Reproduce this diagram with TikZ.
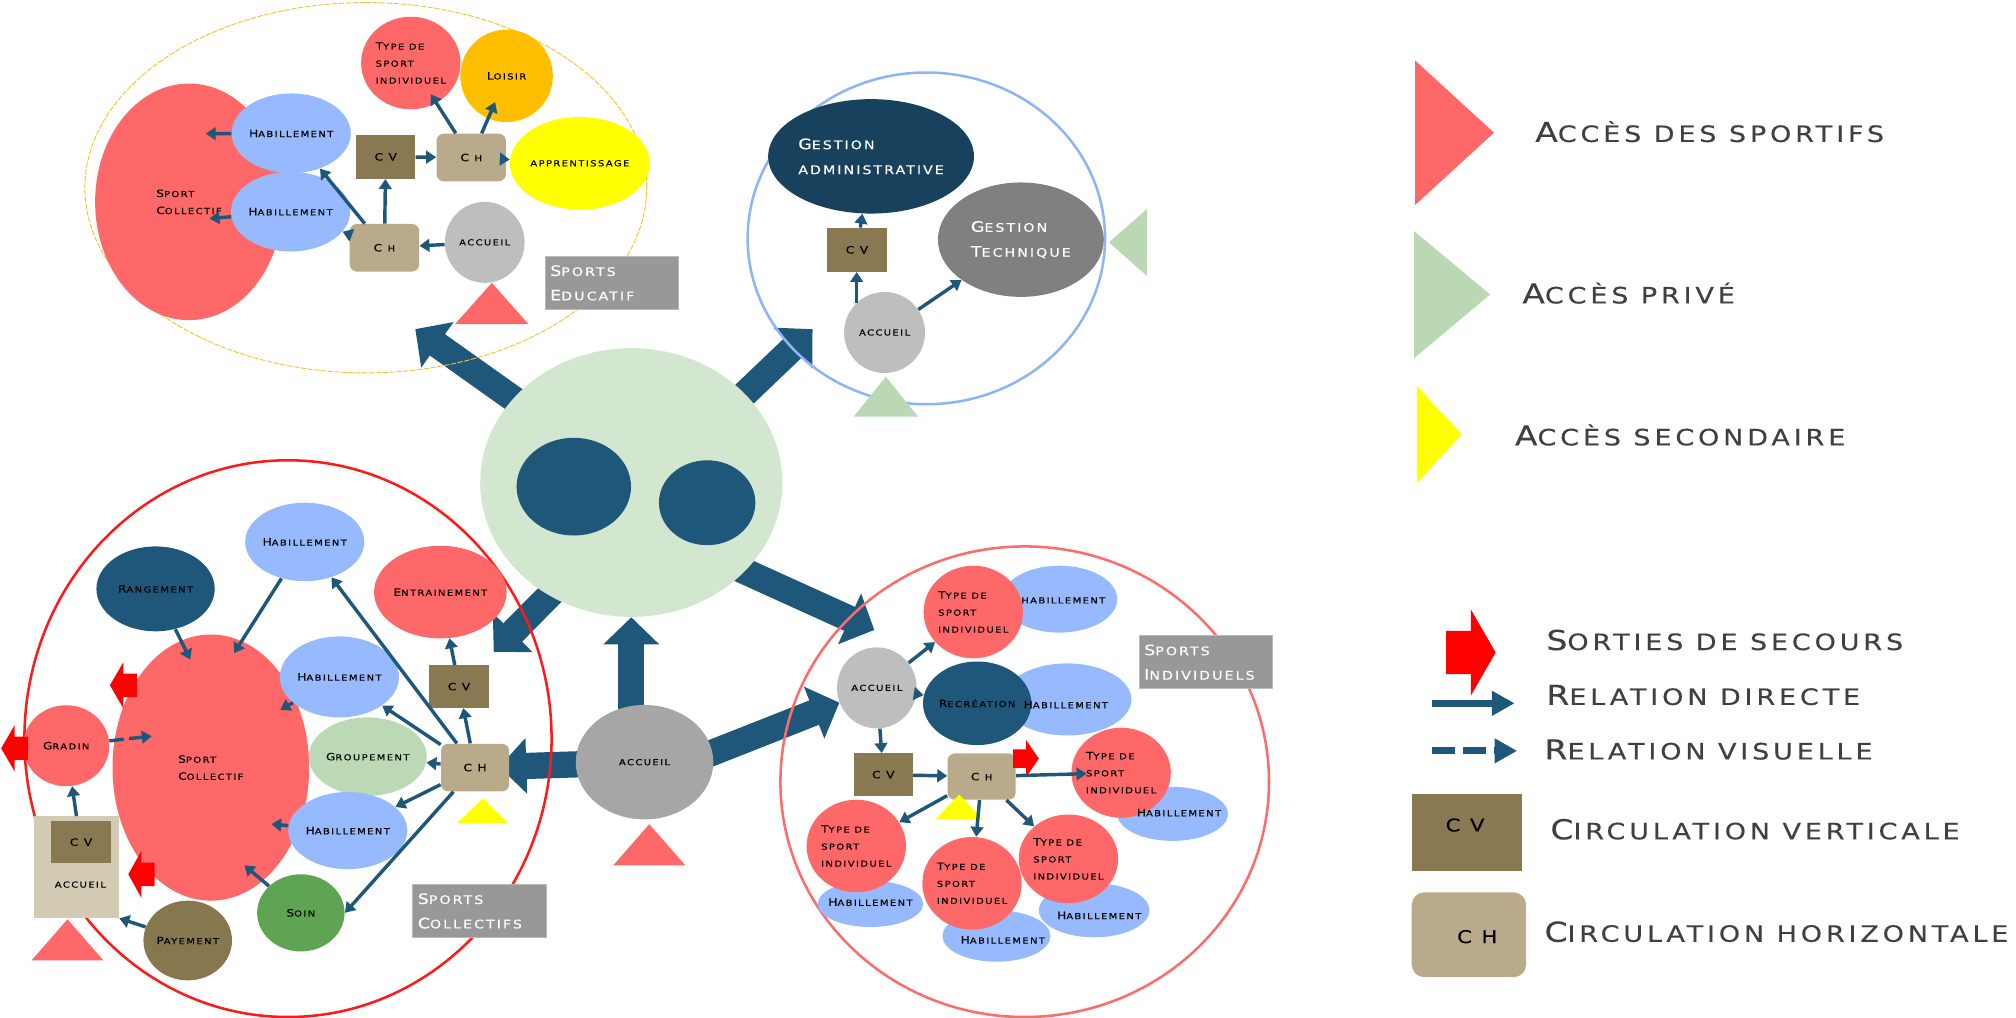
\documentclass[tikz,border=0pt]{standalone}
\usepackage{fontspec}
\setmainfont{DejaVu Sans}[FakeStretch=1.2,LetterSpace=17,FakeBold=0.3]
\usepackage{tikz}
\usetikzlibrary{shapes.geometric,arrows.meta}
\pgfdeclarelayer{bg}
\pgfsetlayers{bg,main}

\definecolor{salmon}{HTML}{FF6868}
\definecolor{habblue}{HTML}{97B9FD}
\definecolor{arrblue}{HTML}{1E5779}
\definecolor{navyadm}{HTML}{17415C}
\definecolor{navyrec}{HTML}{1E5779}
\definecolor{accgray}{HTML}{BEBEBE}
\definecolor{accdark}{HTML}{A6A6A6}
\definecolor{chtan}{HTML}{B8AA8A}
\definecolor{cvbrown}{HTML}{887953}
\definecolor{accbox}{HTML}{D3CBB4}
\definecolor{loisir}{HTML}{FFBF00}
\definecolor{appyellow}{HTML}{FFFF00}
\definecolor{hubgreen}{HTML}{D3E6D0}
\definecolor{grpgreen}{HTML}{BCD9B5}
\definecolor{soingreen}{HTML}{5FA452}
\definecolor{paybrown}{HTML}{86774F}
\definecolor{techgray}{HTML}{808080}
\definecolor{taggray}{HTML}{989898}
\definecolor{exitred}{HTML}{FF0000}
\definecolor{privegreen}{HTML}{B9D8B3}
\definecolor{eduline}{HTML}{F5C231}
\definecolor{gesline}{HTML}{8FB4F6}
\definecolor{colline}{HTML}{FF1A1A}
\definecolor{indline}{HTML}{FF6B6B}
\definecolor{legtext}{HTML}{404040}

\makeatletter
\newcommand\sm[1]{{\fontsize{\dimexpr0.82\dimexpr\f@size pt\relax\relax}{\f@baselineskip}\selectfont\MakeUppercase{#1}}}
\makeatother

\begin{document}
\begin{tikzpicture}[x=0.025cm, y=-0.025cm,
    sz/.style 2 args={minimum width=#1*0.025cm, minimum height=#2*0.025cm},
    lbl/.style={font=\fontsize{5.6}{9.4}\selectfont, text=black, inner sep=0pt, align=center},
    blob/.style={ellipse, lbl},
    sal/.style={blob, fill=salmon},
    hab/.style={blob, fill=habblue},
    acc/.style={blob, fill=accgray},
    cvbox/.style={rectangle, lbl, fill=cvbrown, sz={46}{34}},
    chbox/.style={rectangle, lbl, fill=chtan, rounded corners=4pt, sz={54}{37}},
    zone/.style={ellipse, inner sep=0pt, line width=1.4pt},
    tag/.style={rectangle, fill=taggray, draw=gray!55, line width=0.6pt, text=white, font=\fontsize{8}{13.5}\selectfont, align=left, text width=2.4cm, inner xsep=0.1cm, minimum height=1.025cm},
    gest/.style={blob, text=white, align=left, font=\fontsize{8}{13.8}\selectfont},
    legtxt/.style={anchor=west, inner sep=0pt, text=legtext, font=\fontsize{15.2}{18}\selectfont},
    rel/.style={draw=arrblue, line width=1.9pt, -{Triangle[length=5.5pt,width=7pt]}},
    vis/.style={rel, dash pattern=on 8pt off 3pt},
    legrel/.style={draw=arrblue, line width=4pt, -{Triangle[length=12.5pt,width=13pt]}},
    big/.style={draw=arrblue, line width=14.5pt, -{Triangle[length=15pt,width=30pt]}},
    sortie/.pic={\fill[exitred] (-1,-0.5) -- (0,-0.5) -- (0,-1) -- (1,0) -- (0,1) -- (0,0.5) -- (-1,0.5) -- cycle;}
]
\useasboundingbox (0,0) rectangle (1568,791);

\node[zone, draw=eduline, line width=0.5pt, dash pattern=on 3pt off 0.8pt, sz={437}{288}] (zEdu) at (284.5,146) {};
\node[zone, draw=gesline, sz={278}{258}] (zGes) at (720.5,185.4) {};
\node[zone, draw=colline, sz={410}{433}] (zCol) at (224,574.5) {};
\node[zone, draw=indline, sz={380}{366}] (zInd) at (797,608) {};

\node[ellipse, fill=hubgreen, sz={235}{209}] (hub) at (491,375.3) {};
\node[ellipse, fill=navyrec, sz={89}{76}] (hubL) at (446.3,378.5) {};
\node[ellipse, fill=navyrec, sz={75}{66}] (hubR) at (550,391) {};
\node[blob, fill=accdark, sz={107}{89}] (acc) at (501.3,592.8) {\sm{accueil}};
\fill[salmon] (477,673) -- (505,641) -- (533,673) -- cycle;

\node[sal, sz={146}{184}, align=left] (eSport) at (147,157) {S\sm{port}\\C\sm{ollectif}};
\node[hab, sz={78}{62}] (eHab1) at (226.5,103.7) {H\sm{abillement}};
\node[hab, sz={78}{62}] (eHab2) at (226,164.6) {H\sm{abillement}};
\node[cvbox] (eCV) at (300,122) {C V};
\node[chbox] (eCH1) at (366.5,122.5) {C \sm{h}};
\node[sal, sz={71}{72}, align=left] (eType) at (319.5,49) {T\sm{ype de}\\\sm{sport}\\\sm{individuel}};
\node[blob, fill=loisir, sz={72}{72}] (eLoisir) at (394,59) {L\sm{oisir}};
\node[blob, fill=appyellow, sz={92}{72}] (eApp) at (451,127) {\sm{apprentissage}};
\node[chbox] (eCH2) at (299,192.7) {C \sm{h}};
\node[acc, sz={62}{63}] (eAcc) at (377,188.5) {\sm{accueil}};
\node[tag] (eTag) at (476,220) {S\sm{ports}\\E\sm{ducatif}};
\fill[salmon] (354,252) -- (382.5,220) -- (411,252) -- cycle;
\coordinate (eIn1) at (160,104);
\coordinate (eIn2) at (163,170);

\draw[rel] (eHab1) -- (eIn1);
\draw[rel] (eHab2) -- (eIn2);
\draw[rel] (eCV) -- (eCH1);
\draw[rel, shorten >=-0.2cm] (eCH1) -- (eType);
\draw[rel, shorten >=-0.35cm] (eCH1) -- (eLoisir);
\draw[rel] (eCH1) -- (eApp);
\draw[rel] (eCH2) -- (eCV);
\draw[rel] (eCH2) -- (eHab1);
\draw[rel] (eCH2) -- (eHab2);
\draw[rel] (eAcc) -- (eCH2);

\node[gest, fill=navyadm, sz={130}{89}] (gAdm) at (677.5,121.6) {G\sm{estion}\\\sm{administrative}};
\node[gest, fill=techgray, sz={129}{89}] (gTech) at (794,186.4) {G\sm{estion}\\T\sm{echnique}};
\node[cvbox] (gCV) at (666.5,194.3) {C V};
\node[acc, sz={63}{63}] (gAcc) at (688,258.6) {\sm{accueil}};
\fill[privegreen] (664,324) -- (689,293) -- (714,324) -- cycle;
\fill[privegreen] (892,162.6) -- (862.6,188.5) -- (892,214.7) -- cycle;

\draw[rel] (gAcc.133) -- (gAcc.133 |- gCV.south);
\draw[rel] (gCV) -- (gAdm);
\draw[rel] (gAcc) -- (gTech);

\node[blob, fill=navyrec, sz={92}{66}] (cRang) at (121,458) {R\sm{angement}};
\node[hab, sz={80}{61}] (cHab1) at (237,421.5) {H\sm{abillement}};
\node[sal, sz={153}{207}, align=left] (cSport) at (164,597) {S\sm{port}\\C\sm{ollectif}};
\node[sal, sz={95}{72}] (cEnt) at (342.5,460.5) {E\sm{ntrainement}};
\node[hab, sz={77}{63}] (cHab2) at (264,526.5) {H\sm{abillement}};
\node[blob, fill=grpgreen, sz={86}{61}] (cGrp) at (286,588.5) {G\sm{roupement}};
\node[hab, sz={77}{60}] (cHab3) at (270.5,646) {H\sm{abillement}};
\node[blob, fill=soingreen, sz={68}{60}] (cSoin) at (234,710) {S\sm{oin}};
\node[blob, fill=paybrown, sz={68}{62}] (cPay) at (146,731.5) {P\sm{ayement}};
\node[sal, sz={67}{63}] (cGrad) at (51.5,580) {G\sm{radin}};
\node[rectangle, fill=accbox, sz={66}{79}] (cAccBox) at (59.5,674.5) {};
\node[cvbox, sz={46}{33}] (cCV2) at (63,655) {C V};
\node[lbl] (cAccT) at (62.5,688) {\sm{accueil}};
\node[chbox, sz={53}{37}] (cCH) at (369.5,597) {C H};
\node[cvbox, sz={46}{33}] (cCV) at (357,534) {C V};
\node[tag] (cTag) at (373,708.5) {S\sm{ports}\\C\sm{ollectifs}};
\fill[appyellow] (356,640) -- (375.5,621) -- (395,640) -- cycle;
\fill[salmon] (24.5,747) -- (52.5,715) -- (80.5,747) -- cycle;
\pic[xscale=-10.5, yscale=18] at (96,533) {sortie};
\pic[xscale=-10.2, yscale=18.3] at (110,680) {sortie};
\pic[xscale=-10.5, yscale=18] at (11.4,582) {sortie};
\coordinate (cIn0) at (148,513);
\coordinate (cIn1) at (182,508);
\coordinate (cIn2) at (218,552);
\coordinate (cIn3) at (211,641);
\coordinate (cIn4) at (190,673);
\coordinate (cIn5) at (118,572.5);

\draw[rel] (cRang) -- (cIn0);
\draw[rel] (cHab1) -- (cIn1);
\draw[rel] (cHab2) -- (cIn2);
\draw[rel] (cHab3) -- (cIn3);
\draw[rel] (cSoin) -- (cIn4);
\draw[vis] (cGrad) -- (cIn5);
\draw[rel] (cCH) -- (cHab1);
\draw[rel] (cCH) -- (cHab2);
\draw[rel] (cCH) -- (cGrp);
\draw[rel] (cCH) -- (cHab3);
\draw[rel] (cCH) -- (cSoin.east);
\draw[rel] (cCH) -- (cCV);
\draw[rel] (cCV) -- (cEnt);
\draw[rel] (cPay) -- (cAccBox.south east);
\draw[rel] (cAccBox.north) -- (cGrad);

\node[hab, sz={90}{52}] (iHabT) at (824,466) {};
\node[hab, sz={100}{56}] (iHabR) at (830,544) {};
\node[hab, sz={86}{42}] (iHab6) at (912,633) {};
\node[hab, sz={82}{36}] (iHab3) at (677,703) {};
\node[hab, sz={84}{40}] (iHab4) at (775,728) {};
\node[hab, sz={86}{42}] (iHab5) at (851,708) {};
\node[sal, sz={72}{72}, align=left] (iType1) at (757,476) {T\sm{ype de}\\\sm{sport}\\\sm{individuel}};
\node[blob, fill=navyrec, sz={65}{65}] (iRec) at (760,547) {R\sm{ecréation}};
\node[sal, sz={76}{70}, align=left] (iType2) at (872,601) {T\sm{ype de}\\\sm{sport}\\\sm{individuel}};
\node[sal, sz={72}{72}, align=left] (iType3) at (666,658) {T\sm{ype de}\\\sm{sport}\\\sm{individuel}};
\node[sal, sz={74}{72}, align=left] (iType4) at (756,687) {T\sm{ype de}\\\sm{sport}\\\sm{individuel}};
\node[sal, sz={77}{69}, align=left] (iType5) at (831,668) {T\sm{ype de}\\\sm{sport}\\\sm{individuel}};
\node[lbl] (iHabTt) at (827,467) {\sm{habillement}};
\node[lbl] (iHabRt) at (829,548) {H\sm{abillement}};
\node[lbl] (iHab6t) at (917,632) {H\sm{abillement}};
\node[lbl] (iHab3t) at (677,701.6) {H\sm{abillement}};
\node[lbl] (iHab4t) at (780,731) {H\sm{abillement}};
\node[lbl] (iHab5t) at (855,712) {H\sm{abillement}};
\node[acc, sz={62}{63}] (iAcc) at (682,535) {\sm{accueil}};
\node[cvbox, sz={46}{33}] (iCV) at (687,602.5) {C V};
\node[chbox, sz={53}{36}] (iCH) at (763.5,604) {C \sm{h}};
\node[tag] (iTag) at (938,515) {S\sm{ports}\\I\sm{ndividuels}};
\fill[appyellow] (728,637) -- (746,618) -- (764,637) -- cycle;
\pic[xscale=10, yscale=14.5] at (798,590) {sortie};

\draw[rel] (iAcc) -- (iType1);
\draw[rel] (iAcc) -- (iRec);
\draw[rel] (iAcc) -- (iCV);
\draw[rel] (iCV) -- (iCH);
\draw[rel, shorten >=-0.3cm] (iCH) -- (iType2);
\draw[rel] (iCH) -- (iType3);
\draw[rel] (iCH) -- (iType4);
\draw[rel] (iCH) -- (iType5);

\coordinate (tEdu) at (323,256);
\coordinate (tGes) at (632,256);
\coordinate (tCol) at (384,507);
\coordinate (tInd) at (680,490);
\begin{pgfonlayer}{bg}
\draw[big] (hub.center) -- (tEdu);
\draw[big, shorten <=-0.5cm] (hub.38) -- (tGes);
\draw[big, shorten <=-0.5cm] (hub.234) -- (tCol);
\draw[big, shorten <=-0.5cm] (hub.322) -- (tInd);
\draw[big] (hub.south |- acc.center) -- (hub.south);
\draw[big, shorten >=-0.2cm] (acc.center) -- (cCH);
\draw[big, shorten <=-0.5cm] (acc.8) -- (iAcc);
\end{pgfonlayer}

\fill[salmon] (1100.6,47) -- (1162,103.2) -- (1100.6,159.5) -- cycle;
\node[legtxt] (lgSport) at (1193.8,102.4) {A\sm{ccès des sportifs}};
\fill[privegreen] (1099.8,179.7) -- (1159,229) -- (1099.8,278.6) -- cycle;
\node[legtxt] (lgPrive) at (1183.8,228) {A\sm{ccès privé}};
\fill[appyellow] (1102,300.2) -- (1137,337.8) -- (1102,375.8) -- cycle;
\node[legtxt] (lgSec) at (1178,338.4) {A\sm{ccès secondaire}};

\pic[xscale=19.3, yscale=33.5] at (1144,507.5) {sortie};
\node[legtxt] (lgExit) at (1202.5,497.8) {S\sm{orties de secours}};
\coordinate (lgA1) at (1114,547);
\coordinate (lgA2) at (1178,547);
\draw[legrel] (lgA1) -- (lgA2);
\node[legtxt] (lgDir) at (1202.5,540.6) {R\sm{elation directe}};
\coordinate (lgB1) at (1114,584);
\coordinate (lgB2) at (1180,584);
\draw[legrel, dash pattern=on 0.45cm off 0.15cm] (lgB1) -- (lgB2);
\node[legtxt] (lgVis) at (1201,583) {R\sm{elation visuelle}};
\node[rectangle, fill=cvbrown, sz={86}{60}] (lgCV) at (1141,647.5) {};
\node[font=\fontsize{9.7}{11}\selectfont, inner sep=0pt] (lgCVt) at (1139.5,641.7) {C V};
\node[legtxt] (lgCVl) at (1205.6,645) {C\sm{irculation verticale}};
\node[rectangle, rounded corners=7pt, fill=chtan, sz={89}{66}] (lgCH) at (1142.5,727) {};
\node[font=\fontsize{9.7}{11}\selectfont, inner sep=0pt] (lgCHt) at (1149,728.5) {C H};
\node[legtxt] (lgCHl) at (1201,724.7) {C\sm{irculation horizontale}};
\end{tikzpicture}
\end{document}
